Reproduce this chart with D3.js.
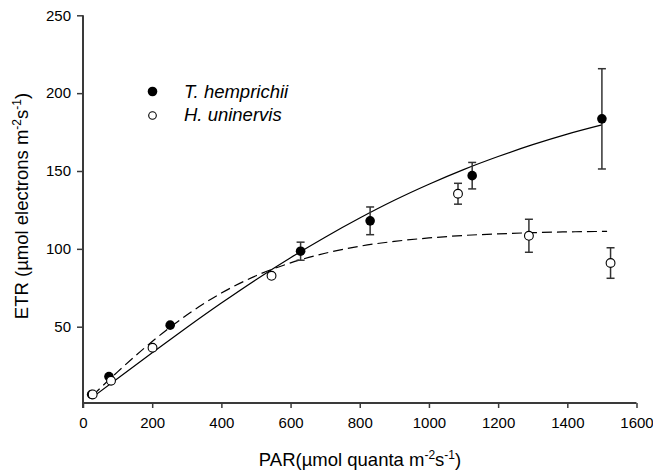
<!DOCTYPE html>
<html><head><meta charset="utf-8">
<script src="https://cdn.jsdelivr.net/npm/d3@7"></script>
<style>
body{margin:0;background:#fff;}
svg{display:block;font-family:"Liberation Sans",Arial,Helvetica,sans-serif;}
</style></head>
<body>
<svg id="chart" width="653" height="472"></svg>
<script>
// ---- data ----
const xTicks = [0,200,400,600,800,1000,1200,1400,1600];
const yTicks = [50,100,150,200,250];

// T. hemprichii (filled)
const parT = [25, 75, 252, 629, 830, 1125, 1500];
const etrT = [6.5, 18, 51, 98.5, 118, 147, 183.5];
const errT = [0, 0, 0, 5.8, 8.9, 8.5, 32.2];

// H. uninervis (open)
const parH = [28, 81, 201, 545, 1084, 1289, 1525];
const etrH = [6.5, 15.3, 36.5, 82.7, 135.4, 108.4, 90.9];
const errH = [0, 0, 0, 0, 6.7, 10.6, 9.8];

// fitted curves
const fitParT = [22,100,200,300,400,500,600,700,800,900,1000,1100,1200,1300,1400,1500];
const fitEtrT = [3.8,16.8,33.3,49.5,65.2,80.2,94.3,107.5,119.8,131.2,141.5,150.9,159.3,166.9,173.7,179.6];
const fitParH = [27,100,200,300,400,500,600,700,800,900,1000,1100,1200,1300,1400,1515];
const fitEtrH = [5.7,21.0,40.5,57.5,71.6,82.7,91.0,97.2,101.7,104.8,107.0,108.6,109.6,110.4,110.9,111.2];

const legendNames = ["T. hemprichii","H. uninervis"];

// ---- drawing ----
const svg = d3.select("#chart");
const x = d3.scaleLinear().domain([0,1600]).range([83,636.5]);
const y = d3.scaleLinear().domain([1,250]).range([403,15.3]);
const axisColor = "#3a3a3a";

// axes
const gx = svg.append("g").attr("transform",`translate(0,${y(1)})`)
  .call(d3.axisBottom(x).tickValues(xTicks).tickSize(5).tickPadding(9).tickFormat(d3.format("d")));
const gy = svg.append("g").attr("transform",`translate(${x(0)},0)`)
  .call(d3.axisLeft(y).tickValues(yTicks).tickSize(6).tickPadding(6).tickFormat(d3.format("d")));
[gx,gy].forEach(g=>{
  g.select(".domain").attr("stroke",axisColor).attr("stroke-width",2);
  g.selectAll(".tick line").attr("stroke",axisColor).attr("stroke-width",1.5);
  g.selectAll(".tick text").attr("fill","#000").style("font-size","15px")
   .style("font-family",'"Liberation Sans",Arial,sans-serif');
});
gy.select(".domain").attr("d",`M0,${y(250)}V${y(1)+5}`);
gx.select(".domain").attr("d",`M${x(0)},0H${x(1600)}`);

// curves
const line = d3.line().curve(d3.curveMonotoneX);
svg.append("path")
  .attr("d", line(fitParT.map((p,i)=>[x(p), y(fitEtrT[i])])))
  .attr("fill","none").attr("stroke","#000").attr("stroke-width",1.2);
svg.append("path")
  .attr("d", line(fitParH.map((p,i)=>[x(p), y(fitEtrH[i])])))
  .attr("fill","none").attr("stroke","#000").attr("stroke-width",1.2)
  .attr("stroke-dasharray","10,5");

// error bars
function errBars(par, etr, err){
  const g = svg.append("g").attr("stroke","#333").attr("stroke-width",1.5);
  par.forEach((p,i)=>{
    if(!err[i]) return;
    const cx = x(p), y1 = y(etr[i]+err[i]), y2 = y(etr[i]-err[i]);
    g.append("line").attr("x1",cx).attr("x2",cx).attr("y1",y1).attr("y2",y2);
    g.append("line").attr("x1",cx-4).attr("x2",cx+4).attr("y1",y1).attr("y2",y1);
    g.append("line").attr("x1",cx-4).attr("x2",cx+4).attr("y1",y2).attr("y2",y2);
  });
}
errBars(parT, etrT, errT);
errBars(parH, etrH, errH);

// points
svg.append("g").selectAll("circle").data(parT).join("circle")
  .attr("cx",(d)=>x(d)).attr("cy",(d,i)=>y(etrT[i])).attr("r",4.8).attr("fill","#000");
svg.append("g").selectAll("circle").data(parH).join("circle")
  .attr("cx",(d)=>x(d)).attr("cy",(d,i)=>y(etrH[i])).attr("r",4.4)
  .attr("fill","#fff").attr("stroke","#000").attr("stroke-width",1.1);

// legend
const lg = svg.append("g");
lg.append("circle").attr("cx",152.5).attr("cy",91.5).attr("r",4.8).attr("fill","#000");
lg.append("circle").attr("cx",152.5).attr("cy",115.5).attr("r",3.8).attr("fill","#fff")
  .attr("stroke","#000").attr("stroke-width",1.1);
legendNames.forEach((n,i)=>{
  lg.append("text").attr("x",184).attr("y",98).attr("dy",i*23).text(n)
    .style("font-size","18.5px").style("font-style","italic");
});

// axis titles
const xt = svg.append("text").attr("x",360).attr("y",466).attr("text-anchor","middle")
  .style("font-size","18.5px");
xt.append("tspan").text("PAR(\u00b5mol quanta m");
xt.append("tspan").attr("dy",-7).style("font-size","12px").text("-2");
xt.append("tspan").attr("dy",7).text("s");
xt.append("tspan").attr("dy",-7).style("font-size","12px").text("-1");
xt.append("tspan").attr("dy",7).text(")");

const yt = svg.append("text").attr("transform","translate(28,206) rotate(-90)")
  .attr("text-anchor","middle").style("font-size","18.5px");
yt.append("tspan").text("ETR (\u00b5mol electrons m");
yt.append("tspan").attr("dy",-7).style("font-size","12px").text("-2");
yt.append("tspan").attr("dy",7).text("s");
yt.append("tspan").attr("dy",-7).style("font-size","12px").text("-1");
yt.append("tspan").attr("dy",7).text(")");
</script>
</body></html>
